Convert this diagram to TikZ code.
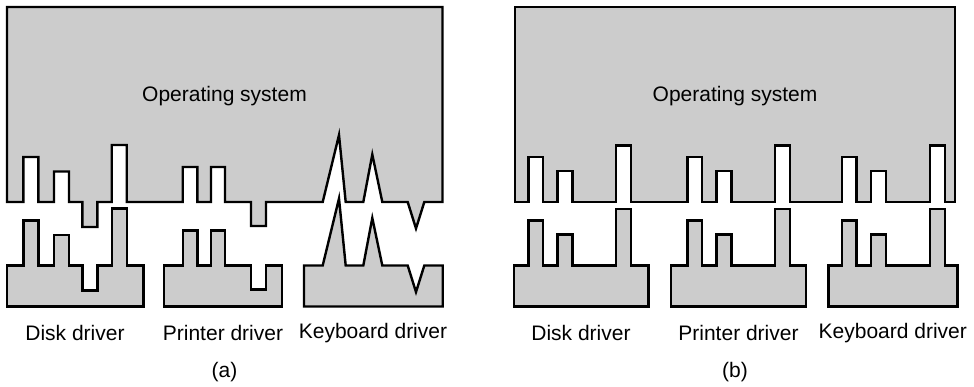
\documentclass[tikz,border=0pt]{standalone}
\usepackage{fontspec}
\setmainfont{Liberation Sans}
\usetikzlibrary{positioning}
\definecolor{board}{HTML}{CCCCCC}
\definecolor{ink}{HTML}{000000}

% plug profiles, relative moves along a base line (y points down)
\newcommand{\diskplugs}{-- ++(0,-45) -- ++(15,0) -- ++(0,45) -- ++(15.7,0) -- ++(0,-30.5) -- ++(15,0) -- ++(0,30.5) -- ++(13.3,0) -- ++(0,25) -- ++(15,0) -- ++(0,-25) -- ++(14.4,0) -- ++(0,-57) -- ++(15,0) -- ++(0,57)}
\newcommand{\printerplugs}{-- ++(0,-35) -- ++(14.6,0) -- ++(0,35) -- ++(13.7,0) -- ++(0,-35) -- ++(14,0) -- ++(0,35) -- ++(26,0) -- ++(0,24) -- ++(15,0) -- ++(0,-24)}
\newcommand{\keyplugs}{-- ++(16.3,-67) -- ++(6.7,67) -- ++(17.6,0) -- ++(9,-47.5) -- ++(10,47.5) -- ++(25.4,0) -- ++(8.3,26.5) -- ++(8.3,-26.5)}
\newcommand{\stdplugs}{-- ++(0,-45) -- ++(14.5,0) -- ++(0,45) -- ++(14.5,0) -- ++(0,-31) -- ++(15,0) -- ++(0,31) -- ++(43.7,0) -- ++(0,-56.5) -- ++(15,0) -- ++(0,56.5)}

\begin{document}
\begin{tikzpicture}[x=1pt,y=-1pt,line width=2.4pt,
  part/.style={fill=board,draw=ink},
  lbl/.style={font=\fontsize{21}{25}\selectfont,color=ink}]
  \useasboundingbox (0,0) rectangle (974,387);
  % (a) every driver has its own plug
  \draw[part] (7,202) -- (23.3,202) \diskplugs -- (182.7,202) \printerplugs -- (322.7,202) \keyplugs -- (442.5,202) -- (442.5,7) -- (7,7) -- cycle;
  \draw[part] (6.7,265.5) -- (23.3,265.5) \diskplugs -- (143.3,265.5) -- (143.3,306.5) -- (6.7,306.5) -- cycle;
  \draw[part] (164,265.5) -- (182.7,265.5) \printerplugs -- (282,265.5) -- (282,306.5) -- (164,306.5) -- cycle;
  \draw[part] (304,265.5) -- (322.7,265.5) \keyplugs -- (442.7,265.5) -- (442.7,306.5) -- (304,306.5) -- cycle;
  % (b) one standard plug
  \draw[part] (515,202) -- (528.5,202) \stdplugs -- (687.5,202) \stdplugs -- (842,202) \stdplugs -- (955,202) -- (955,7) -- (515,7) -- cycle;
  \foreach \l/\t/\r in {514/528.5/648.3, 671/687.5/806, 828.3/842/957.3}
    \draw[part] (\l,265.5) -- (\t,265.5) \stdplugs -- (\r,265.5) -- (\r,306.5) -- (\l,306.5) -- cycle;
  \node[lbl] (os-a) at (224.5,96) {Operating system};
  \node[lbl] (os-b) at (735,96) {Operating system};
  \node[lbl] (disk-a) at (75,333) {Disk driver};
  \node[lbl] (printer-a) at (223,333) {Printer driver};
  \node[lbl] (keyb-a) at (373,333) {Keyboard driver};
  \node[lbl] (disk-b) at (581,333) {Disk driver};
  \node[lbl] (printer-b) at (738.5,333) {Printer driver};
  \node[lbl] (keyb-b) at (892.8,333) {Keyboard driver};
  \node[lbl] (cap-a) at (224.5,372) {(a)};
  \node[lbl] (cap-b) at (735,372) {(b)};
\end{tikzpicture}
\end{document}
